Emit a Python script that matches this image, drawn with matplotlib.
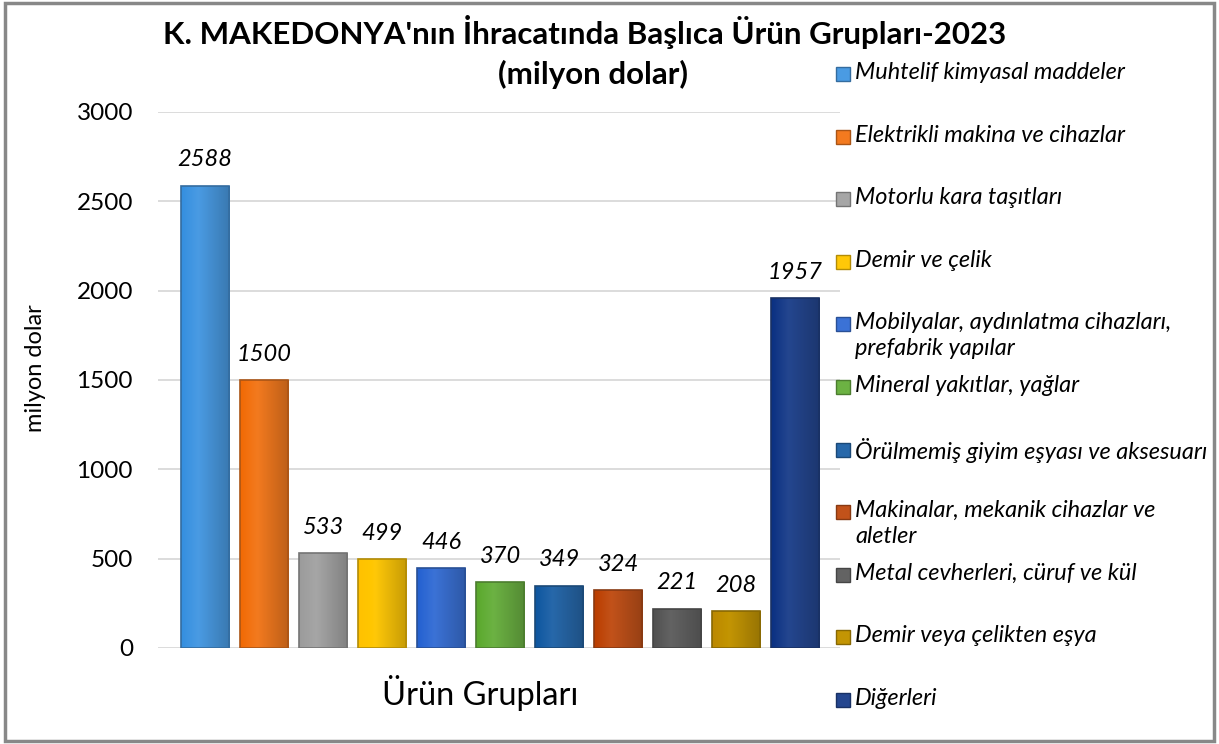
import numpy as np
import matplotlib.pyplot as plt
from matplotlib.patches import Rectangle
from matplotlib.colors import to_rgb

plt.rcParams['font.family'] = ['Lato', 'DejaVu Sans']

urunler = ['Muhtelif kimyasal maddeler',
           'Elektrikli makina ve cihazlar',
           'Motorlu kara taşıtları',
           'Demir ve çelik',
           'Mobilyalar, aydınlatma cihazları,\nprefabrik yapılar',
           'Mineral yakıtlar, yağlar',
           'Örülmemiş giyim eşyası ve aksesuarı',
           'Makinalar, mekanik cihazlar ve\naletler',
           'Metal cevherleri, cüruf ve kül',
           'Demir veya çelikten eşya',
           'Diğerleri']
degerler = [2588, 1500, 533, 499, 446, 370, 349, 324, 221, 208, 1957]
renkler = ['#4a9be3', '#f37a1f', '#a6a6a6', '#ffc808', '#3b72d6', '#6cb243',
           '#2768aa', '#c2521a', '#636363', '#c39504', '#24468f']

fig = plt.figure(figsize=(12.19, 7.44), dpi=100)
ax = fig.add_axes([158 / 1219, 1 - 648 / 744, (840 - 158) / 1219, (648 - 112) / 744])

x = np.arange(len(degerler))
bars = ax.bar(x, degerler, width=0.82, color=renkler, zorder=2)

# yatay gradyan ile kabartma efekti
for b, c in zip(bars, renkler):
    r = np.array(to_rgb(c))
    grad = np.array([np.clip(r * f + (1 - f) * (1 if f > 1 else 0), 0, 1)
                     for f in np.linspace(1.12, 0.78, 40)])
    grad = np.clip(grad, 0, 1)[None, :, :]
    x0, w, h = b.get_x(), b.get_width(), b.get_height()
    im = ax.imshow(grad, extent=[x0, x0 + w, 0, h], aspect='auto', zorder=3)
    im.set_clip_path(b)
    ax.add_patch(Rectangle((x0, 0), w, h, fill=False,
                           edgecolor=np.clip(r * 0.7, 0, 1), lw=1.2, zorder=4))
    ax.text(b.get_x() + w / 2, h + 85, str(int(h)), ha='center', va='bottom',
            fontsize=17, style='italic', zorder=5)

ax.set_xlim(-0.8, 10.76)
ax.set_ylim(0, 3000)
ax.set_yticks(np.arange(0, 3001, 500))
ax.tick_params(axis='y', labelsize=17.5, length=0, pad=18)
ax.set_xticks([])
ax.grid(axis='y', color='#d9d9d9', lw=1.3, zorder=0)
for s in ax.spines.values():
    s.set_visible(False)

fig.text(35 / 1219, 1 - 368 / 744, 'milyon dolar', ha='center', va='center',
         rotation=90, fontsize=17)
fig.text(480 / 1219, 1 - 693 / 744, 'Ürün Grupları', ha='center', va='center', fontsize=23.5)

fig.text(585 / 1219, 1 - 32 / 744, "K. MAKEDONYA'nın İhracatında Başlıca Ürün Grupları-2023",
         ha='center', va='center', fontsize=22.5, weight='bold')
fig.text(593 / 1219, 1 - 74 / 744, '(milyon dolar)', ha='center', va='center',
         fontsize=22.5, weight='bold')

# lejant
for i, (ad, c) in enumerate(zip(urunler, renkler)):
    yp = 74 + i * 62.6
    fig.patches.append(Rectangle((836 / 1219, 1 - (yp + 7) / 744), 14 / 1219, 14 / 744,
                                 transform=fig.transFigure, facecolor=c,
                                 edgecolor=np.clip(np.array(to_rgb(c)) * 0.7, 0, 1), lw=1))
    fig.text(855 / 1219, 1 - (yp - 12) / 744, ad, ha='left', va='top', fontsize=16.9,
             style='italic', linespacing=1.28)

fig.patches.append(Rectangle((0.004, 0.004), 0.992, 0.992, transform=fig.transFigure,
                             fill=False, edgecolor='#888888', lw=2.5))

fig.savefig('out.png', dpi=100)
